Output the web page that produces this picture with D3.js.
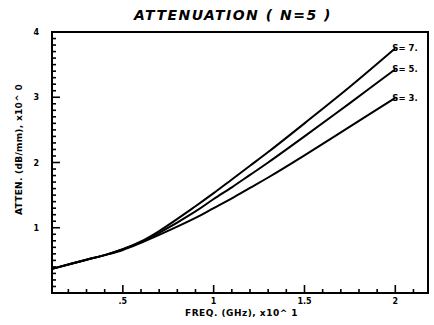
<!DOCTYPE html>
<html>
<head>
<meta charset="utf-8">
<script src="https://cdn.jsdelivr.net/npm/d3@7"></script>
<style>
  body { margin: 0; background: #fff; }
  text { font-family: 'DejaVu Sans', sans-serif; font-weight: bold; fill: #000; }
</style>
</head>
<body>
<div id="chart"></div>
<script>
// frequency samples (GHz / 10)
const freq = [0.11, 0.3, 0.4, 0.5, 0.6, 0.7, 0.9, 1.0, 1.1, 1.2, 1.3, 1.5, 1.75, 2.0];
// attenuation (dB/mm) for each spacing
const attenS7 = [0.37, 0.51, 0.58, 0.67, 0.79, 0.95, 1.33, 1.53, 1.74, 1.95, 2.16, 2.60, 3.16, 3.75];
const attenS5 = [0.37, 0.51, 0.58, 0.67, 0.78, 0.92, 1.25, 1.44, 1.62, 1.81, 2.00, 2.40, 2.91, 3.43];
const attenS3 = [0.37, 0.51, 0.58, 0.66, 0.77, 0.89, 1.15, 1.30, 1.45, 1.61, 1.77, 2.11, 2.55, 2.99];
const seriesLabels = ['S= 7.', 'S= 5.', 'S= 3.'];
const xTickLabels = ['.5', '1', '1.5', '2'];
const yTickLabels = ['1', '2', '3', '4'];

const width = 434, height = 325;
const margin = { top: 32, right: 6, bottom: 32, left: 52 };

const svg = d3.select('#chart').append('svg')
  .attr('width', width)
  .attr('height', height);

const x = d3.scaleLinear().domain([0.11, 2.18]).range([margin.left, width - margin.right]);
const y = d3.scaleLinear().domain([0, 4]).range([height - margin.bottom, margin.top]);

// Frame
svg.append('rect')
  .attr('x', x.range()[0]).attr('y', y.range()[1])
  .attr('width', x.range()[1] - x.range()[0])
  .attr('height', y.range()[0] - y.range()[1])
  .attr('fill', 'none').attr('stroke', '#000').attr('stroke-width', 2);

// Bottom axis ticks (inward)
const xMinor = d3.range(2, 22).map(d => d / 10);
svg.append('g').selectAll('line').data(xMinor).enter().append('line')
  .attr('x1', d => x(d)).attr('x2', d => x(d))
  .attr('y1', y(0)).attr('y2', d => y(0) - (Math.round(d * 10) % 5 === 0 ? 8 : 4))
  .attr('stroke', '#000').attr('stroke-width', 1.6);

svg.append('g').selectAll('text').data(xTickLabels).enter().append('text')
  .attr('x', d => x(+d)).attr('y', y(0) + 11)
  .attr('text-anchor', 'middle').attr('font-size', 8)
  .text(d => d);

// Left axis ticks (inward)
const yMinor = d3.range(1, 40).map(d => d / 10);
svg.append('g').selectAll('line').data(yMinor).enter().append('line')
  .attr('y1', d => y(d)).attr('y2', d => y(d))
  .attr('x1', x.range()[0]).attr('x2', d => x.range()[0] + (Math.round(d * 10) % 10 === 0 ? 8 : 4))
  .attr('stroke', '#000').attr('stroke-width', 1.6);

svg.append('g').selectAll('text').data(yTickLabels).enter().append('text')
  .attr('x', x.range()[0] - 13).attr('y', d => y(+d) + 3)
  .attr('text-anchor', 'end').attr('font-size', 8)
  .text(d => d);

// Curves
const line = d3.line()
  .x(d => x(d[0]))
  .y(d => y(d[1]))
  .curve(d3.curveCatmullRom.alpha(0.5));

const series = [attenS7, attenS5, attenS3];
series.forEach((vals, i) => {
  const pts = freq.map((f, j) => [f, vals[j]]);
  svg.append('path')
    .datum(pts)
    .attr('d', line)
    .attr('fill', 'none')
    .attr('stroke', '#000')
    .attr('stroke-width', 2);

  const last = pts[pts.length - 1];
  svg.append('text')
    .attr('x', x(last[0]) - 3)
    .attr('y', y(last[1]) + 3)
    .attr('font-size', 8.5)
    .text(seriesLabels[i]);
});

// Title
svg.append('text')
  .attr('x', 233).attr('y', 20)
  .attr('text-anchor', 'middle')
  .attr('font-size', 14)
  .attr('font-style', 'italic')
  .attr('letter-spacing', 1.5)
  .text('ATTENUATION ( N=5 )');

// Axis titles
svg.append('text')
  .attr('x', 185).attr('y', 316)
  .attr('font-size', 9)
  .attr('letter-spacing', 0.5)
  .text('FREQ. (GHz),  x10^  1');

svg.append('text')
  .attr('transform', 'translate(22,215) rotate(-90)')
  .attr('font-size', 9)
  .attr('letter-spacing', 0.3)
  .text('ATTEN. (dB/mm),  x10^  0');
</script>
</body>
</html>
